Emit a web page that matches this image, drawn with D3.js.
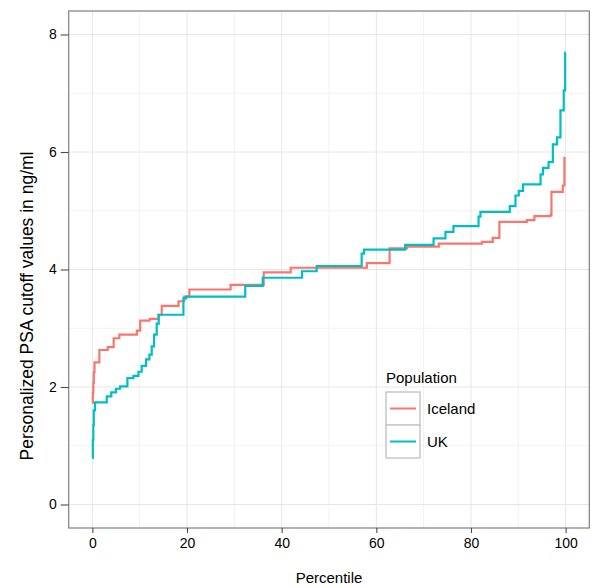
<!DOCTYPE html>
<html>
<head>
<meta charset="utf-8">
<script src="https://cdn.jsdelivr.net/npm/d3@7"></script>
<style>
  html, body { margin: 0; padding: 0; background: #fff; }
  svg { display: block; font-family: "Liberation Sans", Arial, sans-serif; }
</style>
</head>
<body>
<svg id="chart" width="600" height="588"></svg>
<script>
// ---- data ----
const seriesNames = ["Iceland", "UK"];
const seriesColors = ["#F8766D", "#00BFC4"];

const icelandPercentile = [0, 0.1, 0.2, 0.3, 0.45, 1.48, 3.24, 4.5, 5.7, 9.4, 10.1, 12.1, 13.95, 14.66, 18.2, 19.4, 20.5, 29.2, 36.2, 41.9, 58.0, 62.8, 66.5, 73.2, 82.3, 84.6, 86.0, 91.8, 93.4, 96.8, 97.0, 99.4, 99.75, 100];
const icelandValue      = [1.73, 1.9, 2.07, 2.25, 2.42, 2.63, 2.68, 2.83, 2.89, 2.96, 3.13, 3.16, 3.23, 3.38, 3.46, 3.54, 3.66, 3.74, 3.95, 4.03, 4.11, 4.36, 4.39, 4.44, 4.47, 4.54, 4.81, 4.84, 4.91, 4.93, 5.32, 5.43, 5.9, 5.9];

const ukPercentile = [0, 0.1, 0.2, 0.3, 0.56, 3.05, 4.0, 5.0, 5.85, 7.4, 8.67, 9.73, 10.43, 11.35, 12.05, 12.54, 13.04, 13.6, 14.02, 19.24, 19.8, 32.3, 36.0, 44.3, 47.4, 56.9, 57.4, 66.1, 72.1, 74.6, 76.3, 81.6, 82.0, 88.2, 89.4, 90.1, 91.0, 94.7, 95.2, 96.4, 97.3, 98.2, 98.9, 99.6, 99.9, 100];
const ukValue      = [0.79, 1.1, 1.35, 1.6, 1.74, 1.84, 1.91, 1.97, 2.01, 2.15, 2.19, 2.26, 2.36, 2.47, 2.55, 2.69, 2.89, 3.08, 3.23, 3.51, 3.54, 3.72, 3.86, 3.97, 4.06, 4.27, 4.34, 4.42, 4.53, 4.64, 4.74, 4.9, 4.98, 5.08, 5.26, 5.34, 5.45, 5.62, 5.73, 5.83, 6.13, 6.25, 6.71, 7.05, 7.69, 7.69];

const xTicks = [0, 20, 40, 60, 80, 100];
const yTicks = [0, 2, 4, 6, 8];
const xMinor = [10, 30, 50, 70, 90];
const yMinor = [1, 3, 5, 7];

const xTitle = "Percentile";
const yTitle = "Personalized PSA cutoff values in ng/ml";
const legendTitle = "Population";

// ---- layout ----
const svg = d3.select("#chart");
const P = { left: 68.7, right: 589.3, top: 11, bottom: 528 };

const x = d3.scaleLinear().domain([-5, 105]).range([P.left, P.right]);
const y = d3.scaleLinear().domain([-0.4, 8.4]).range([P.bottom, P.top]);

// panel background
svg.append("rect").attr("x", P.left).attr("y", P.top)
  .attr("width", P.right - P.left).attr("height", P.bottom - P.top)
  .attr("fill", "#fff");

const grid = svg.append("g");
// minor grid
grid.selectAll(".vmin").data(xMinor).join("line")
  .attr("x1", d => x(d)).attr("x2", d => x(d)).attr("y1", P.top).attr("y2", P.bottom)
  .attr("stroke", "#f2f2f2").attr("stroke-width", 1);
grid.selectAll(".hmin").data(yMinor).join("line")
  .attr("y1", d => y(d)).attr("y2", d => y(d)).attr("x1", P.left).attr("x2", P.right)
  .attr("stroke", "#f2f2f2").attr("stroke-width", 1);
// major grid
grid.selectAll(".vmaj").data(xTicks).join("line")
  .attr("x1", d => x(d)).attr("x2", d => x(d)).attr("y1", P.top).attr("y2", P.bottom)
  .attr("stroke", "#e6e6e6").attr("stroke-width", 1);
grid.selectAll(".hmaj").data(yTicks).join("line")
  .attr("y1", d => y(d)).attr("y2", d => y(d)).attr("x1", P.left).attr("x2", P.right)
  .attr("stroke", "#e6e6e6").attr("stroke-width", 1);

// lines
const series = [
  { name: seriesNames[0], color: seriesColors[0], pts: icelandPercentile.map((p, i) => [p, icelandValue[i]]) },
  { name: seriesNames[1], color: seriesColors[1], pts: ukPercentile.map((p, i) => [p, ukValue[i]]) }
];
const line = d3.line().x(d => x(d[0])).y(d => y(d[1])).curve(d3.curveStepAfter);
svg.append("g").selectAll("path").data(series).join("path")
  .attr("d", d => line(d.pts))
  .attr("fill", "none")
  .attr("stroke", d => d.color)
  .attr("stroke-width", 2.2);

// panel border
svg.append("rect").attr("x", P.left).attr("y", P.top)
  .attr("width", P.right - P.left).attr("height", P.bottom - P.top)
  .attr("fill", "none").attr("stroke", "#7f7f7f").attr("stroke-width", 1.2);

// axes
const xAxis = d3.axisBottom(x).tickValues(xTicks).tickSize(5).tickPadding(5);
const gx = svg.append("g").attr("transform", `translate(0,${P.bottom})`).call(xAxis);
gx.select(".domain").remove();
gx.selectAll(".tick line").attr("stroke", "#4d4d4d").attr("stroke-width", 1.1);
gx.selectAll(".tick text").attr("font-size", 14).attr("fill", "#000")
  .attr("font-family", "Liberation Sans, Arial, sans-serif");

const yAxis = d3.axisLeft(y).tickValues(yTicks).tickSize(8).tickPadding(4);
const gy = svg.append("g").attr("transform", `translate(${P.left},0)`).call(yAxis);
gy.select(".domain").remove();
gy.selectAll(".tick line").attr("stroke", "#4d4d4d").attr("stroke-width", 1.1);
gy.selectAll(".tick text").attr("font-size", 14).attr("fill", "#000")
  .attr("font-family", "Liberation Sans, Arial, sans-serif");

// titles
svg.append("text").attr("x", (P.left + P.right) / 2).attr("y", 583)
  .attr("text-anchor", "middle").attr("font-size", 15).attr("fill", "#000").text(xTitle);
svg.append("text")
  .attr("transform", `translate(33,306) rotate(-90)`)
  .attr("text-anchor", "middle").attr("font-size", 17.5).attr("fill", "#000").text(yTitle);

// legend
const lg = svg.append("g");
lg.append("text").attr("x", 386).attr("y", 383).attr("font-size", 15).attr("fill", "#000").text(legendTitle);
const keyW = 34, keyH = 33, keyX = 386, keyY0 = 392;
const items = lg.selectAll(".item").data(series).join("g")
  .attr("transform", (d, i) => `translate(${keyX},${keyY0 + i * keyH})`);
items.append("rect").attr("width", keyW).attr("height", keyH)
  .attr("fill", "#fff").attr("stroke", "#c8c8c8").attr("stroke-width", 1.5);
items.append("line").attr("x1", 4).attr("x2", keyW - 4)
  .attr("y1", keyH / 2).attr("y2", keyH / 2)
  .attr("stroke", d => d.color).attr("stroke-width", 2);
items.append("text").attr("x", keyW + 7).attr("y", keyH / 2 + 5)
  .attr("font-size", 15).attr("fill", "#000").text(d => d.name);
</script>
</body>
</html>
